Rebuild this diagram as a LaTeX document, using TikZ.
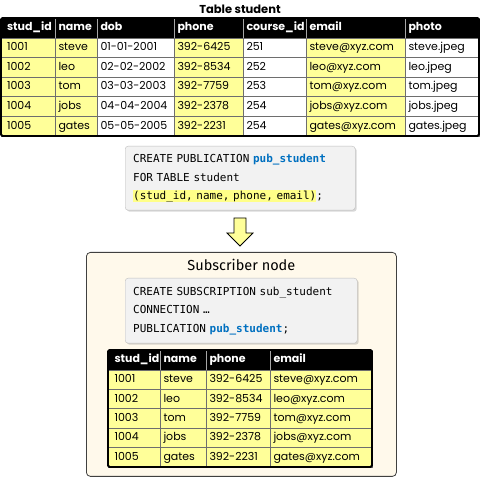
\documentclass[tikz,border=0pt]{standalone}
\usepackage{fontspec}
\setmainfont{Poppins}
\setmonofont{DejaVu Sans Mono}
\newfontfamily\subfont{Fira Sans}
\usepackage{xcolor}
\usetikzlibrary{positioning, shadows}
\definecolor{tabyellow}{HTML}{FFFF99}
\definecolor{hlyellow}{HTML}{FFFF88}
\definecolor{gridgray}{HTML}{6E6E6E}
\definecolor{codegray}{HTML}{F2F2F2}
\definecolor{codeline}{HTML}{BDBDBD}
\definecolor{keyblue}{HTML}{0070C0}
\definecolor{subcream}{HTML}{FFF9EB}

\newcommand{\hlpart}[1]{{\setlength{\fboxsep}{0pt}\colorbox{hlyellow}{\rule[-2.5pt]{0pt}{12pt}#1}}}
\newcommand{\kw}[1]{\textcolor{keyblue}{\bfseries #1}}
\newcommand{\codefont}{\ttfamily\fontsize{11}{18.5}\selectfont\setlength{\spaceskip}{6.62pt}}

\tikzset{
  cellbase/.style={draw=gridgray, line width=0.7pt, anchor=north west, outer sep=0pt,
    inner xsep=3.5pt, inner ysep=0pt, text width=#1, align=left, minimum height=19.6pt,
    text height=8.5pt, text depth=2.5pt, font=\fontsize{11}{13}\selectfont},
  ycell/.style={cellbase=#1, fill=tabyellow},
  wcell/.style={cellbase=#1, fill=white},
  hcell/.style={cellbase=#1, fill=black, draw=gray!70, text=white, minimum height=20pt,
    font=\fontsize{11}{13}\selectfont\bfseries},
  codebox/.style={draw=codeline, fill=codegray, rounded corners=3pt, anchor=north west,
    align=left, inner xsep=8pt, font=\codefont,
    drop shadow={shadow xshift=1.5pt, shadow yshift=-1.5pt, opacity=0.3, fill=gray}},
}

\begin{document}
\begin{tikzpicture}[x=1pt, y=-1pt]
  \fill[white] (0,0) rectangle (480,478);
  \useasboundingbox (0,0) rectangle (480,478);

  % publisher table
  \node[font=\bfseries\fontsize{11.5}{14}\selectfont] (tabtitle) at (240,9) {Table student};
  \node[hcell=42pt, inner xsep=6pt] (sid0) at (1,18) {stud\_id};
  \node[hcell=35pt] (nm0) at (sid0.north east) {name};
  \node[hcell=70pt] (dob0) at (nm0.north east) {dob};
  \node[hcell=62pt] (ph0) at (dob0.north east) {phone};
  \node[hcell=56pt] (cid0) at (ph0.north east) {course\_id};
  \node[hcell=92pt] (em0) at (cid0.north east) {email};
  \node[hcell=67pt] (pho0) at (em0.north east) {photo};
  \foreach \sid/\snm/\sdob/\sph/\scid/\sem/\spho [count=\r] in {
      1001/steve/01-01-2001/392-6425/251/steve@xyz.com/steve.jpeg,
      1002/leo/02-02-2002/392-8534/252/leo@xyz.com/leo.jpeg,
      1003/tom/03-03-2003/392-7759/253/tom@xyz.com/tom.jpeg,
      1004/jobs/04-04-2004/392-2378/254/jobs@xyz.com/jobs.jpeg,
      1005/gates/05-05-2005/392-2231/254/gates@xyz.com/gates.jpeg}{
    \node[ycell=42pt, inner xsep=6pt] (sid\r) at (1,{38+(\r-1)*19.6}) {\sid};
    \node[ycell=35pt] (nm\r) at (sid\r.north east) {\snm};
    \node[wcell=70pt] (dob\r) at (nm\r.north east) {\sdob};
    \node[ycell=62pt] (ph\r) at (dob\r.north east) {\sph};
    \node[wcell=56pt] (cid\r) at (ph\r.north east) {\scid};
    \node[ycell=92pt] (em\r) at (cid\r.north east) {\sem};
    \node[wcell=67pt] (pho\r) at (em\r.north east) {\spho};
  }
  \draw[line width=1.8pt, rounded corners=1.5pt] (sid0.north west) rectangle (pho5.south east);

  % publication
  \node[codebox, minimum width=230pt, minimum height=64pt, text width=214pt] (pubcode) at (125,146)
    {CREATE PUBLICATION \kw{pub\_student}\\
     FOR TABLE student\\
     \hlpart{(stud\_id, name, phone, email)};};

  \draw[fill=tabyellow, line width=0.8pt, line join=miter]
    (234,218) -- (246,218) -- (246,233) -- (253,233) -- (240,246) -- (227,233) -- (234,233) -- cycle;

  % subscriber side
  \node[draw=black!75, fill=subcream, rounded corners=4pt, line width=0.8pt, anchor=north west,
        minimum width=310pt, minimum height=224pt, inner sep=0pt] (subbox) at (86,252) {};
  \node[font=\subfont\fontsize{14.5}{16}\selectfont, below=4pt of subbox.north] (subtitle) {Subscriber node};
  \node[codebox, minimum width=232pt, minimum height=65pt, text width=216pt] (subcode) at (125,278)
    {CREATE SUBSCRIPTION sub\_student\\
     CONNECTION …\\
     PUBLICATION \kw{pub\_student};};

  \node[hcell=39pt, inner xsep=6.5pt] (bsid0) at (108,350) {stud\_id};
  \node[hcell=39pt] (bnm0) at (bsid0.north east) {name};
  \node[hcell=57pt] (bph0) at (bnm0.north east) {phone};
  \node[hcell=95pt] (bem0) at (bph0.north east) {email};
  \foreach \sid/\snm/\sph/\sem [count=\r] in {
      1001/steve/392-6425/steve@xyz.com,
      1002/leo/392-8534/leo@xyz.com,
      1003/tom/392-7759/tom@xyz.com,
      1004/jobs/392-2378/jobs@xyz.com,
      1005/gates/392-2231/gates@xyz.com}{
    \node[ycell=39pt, inner xsep=6.5pt, minimum height=19.4pt] (bsid\r) at (108,{370+(\r-1)*19.4}) {\sid};
    \node[ycell=39pt, minimum height=19.4pt] (bnm\r) at (bsid\r.north east) {\snm};
    \node[ycell=57pt, minimum height=19.4pt] (bph\r) at (bnm\r.north east) {\sph};
    \node[ycell=95pt, minimum height=19.4pt] (bem\r) at (bph\r.north east) {\sem};
  }
  \draw[line width=1.8pt, rounded corners=1.5pt] (bsid0.north west) rectangle (bem5.south east);
\end{tikzpicture}
\end{document}
